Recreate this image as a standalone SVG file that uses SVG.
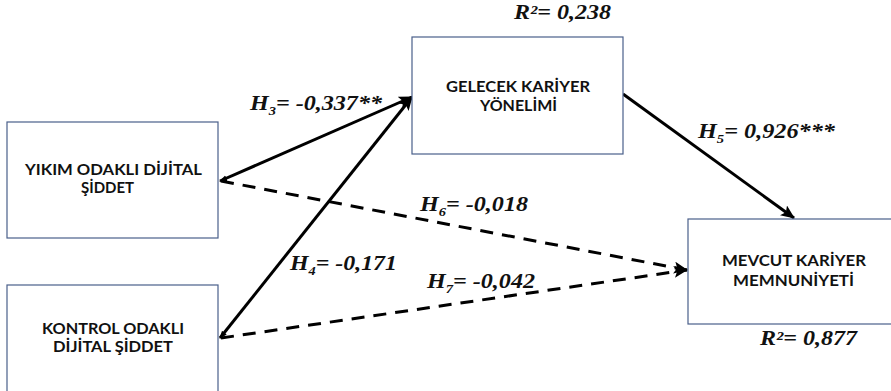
<svg xmlns="http://www.w3.org/2000/svg" width="891" height="391" viewBox="0 0 891 391">
<style>
.box{fill:#ffffff;stroke:#4a5f8a;stroke-width:1.2}
.nt{font-family:Lato,"Liberation Sans",Arial,sans-serif;font-weight:bold;font-size:15.5px;fill:#111}
.lb{font-family:"Liberation Serif","Times New Roman",serif;font-weight:bold;font-style:italic;font-size:20px;fill:#111}
.sub{font-size:12px}
.solid{stroke:#000;stroke-width:3;fill:none}
.dash{stroke:#000;stroke-width:3;fill:none;stroke-dasharray:13 9}
</style>
<defs>
<marker id="ah" markerUnits="userSpaceOnUse" viewBox="0 0 14 12" refX="13" refY="6" markerWidth="14" markerHeight="12" orient="auto">
<path d="M0,0 L14,6 L0,12 L3,6 z" fill="#000"/>
</marker>
<marker id="as" markerUnits="userSpaceOnUse" viewBox="0 0 8 8" refX="7" refY="4" markerWidth="8" markerHeight="8" orient="auto-start-reverse">
<path d="M0,1 L8,4 L0,7 z" fill="#000"/>
</marker>
</defs>
<g id="connectors">
<line class="solid" x1="220" y1="181" x2="412" y2="97" marker-start="url(#as)" marker-end="url(#ah)"/>
<line class="solid" x1="220" y1="338" x2="412" y2="97" marker-start="url(#as)" marker-end="url(#ah)"/>
<line class="solid" x1="623" y1="94" x2="794" y2="218" marker-end="url(#ah)"/>
<line class="dash" x1="221" y1="181" x2="687" y2="270" marker-end="url(#ah)"/>
<line class="dash" x1="221" y1="338" x2="687" y2="270" marker-end="url(#ah)"/>
</g>
<g id="node-yikim">
<rect class="box" x="7" y="122" width="211" height="116"/>
<text class="nt" x="25" y="175" textLength="177" lengthAdjust="spacingAndGlyphs">YIKIM ODAKLI DİJİTAL</text>
<text class="nt" x="81" y="193" textLength="53" lengthAdjust="spacingAndGlyphs">ŞİDDET</text>
</g>
<g id="node-kontrol">
<rect class="box" x="7" y="285" width="211" height="120"/>
<text class="nt" x="42" y="334" textLength="142" lengthAdjust="spacingAndGlyphs">KONTROL ODAKLI</text>
<text class="nt" x="53" y="352" textLength="120" lengthAdjust="spacingAndGlyphs">DİJİTAL ŞİDDET</text>
</g>
<g id="node-gelecek">
<rect class="box" x="412" y="37" width="211" height="117"/>
<text class="nt" x="446" y="92" textLength="144" lengthAdjust="spacingAndGlyphs">GELECEK KARİYER</text>
<text class="nt" x="480" y="111" textLength="77" lengthAdjust="spacingAndGlyphs">YÖNELİMİ</text>
</g>
<g id="node-mevcut">
<rect class="box" x="688" y="219" width="210" height="105"/>
<text class="nt" x="722" y="266" textLength="144" lengthAdjust="spacingAndGlyphs">MEVCUT KARİYER</text>
<text class="nt" x="733" y="286" textLength="121" lengthAdjust="spacingAndGlyphs">MEMNUNİYETİ</text>
</g>
<g id="labels">
<text class="lb" x="514" y="19" textLength="97" lengthAdjust="spacingAndGlyphs">R²= 0,238</text>
<text class="lb" x="760" y="345" textLength="97" lengthAdjust="spacingAndGlyphs">R²= 0,877</text>
<text class="lb" x="250" y="110" textLength="132" lengthAdjust="spacingAndGlyphs">H<tspan class="sub" dy="5">3</tspan><tspan dy="-5">= -0,337**</tspan></text>
<text class="lb" x="290" y="270" textLength="107" lengthAdjust="spacingAndGlyphs">H<tspan class="sub" dy="5">4</tspan><tspan dy="-5">= -0,171</tspan></text>
<text class="lb" x="698" y="138" textLength="137" lengthAdjust="spacingAndGlyphs">H<tspan class="sub" dy="5">5</tspan><tspan dy="-5">= 0,926***</tspan></text>
<text class="lb" x="420" y="211" textLength="108" lengthAdjust="spacingAndGlyphs">H<tspan class="sub" dy="5">6</tspan><tspan dy="-5">= -0,018</tspan></text>
<text class="lb" x="427" y="288" textLength="108" lengthAdjust="spacingAndGlyphs">H<tspan class="sub" dy="5">7</tspan><tspan dy="-5">= -0,042</tspan></text>
</g>
</svg>
